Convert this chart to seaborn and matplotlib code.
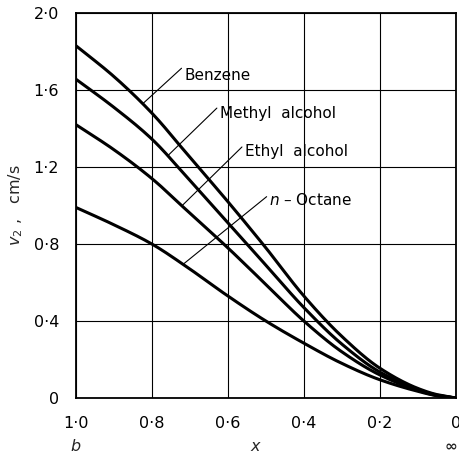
import numpy as np
import pandas as pd
import matplotlib
matplotlib.use("Agg")
import matplotlib.pyplot as plt
import seaborn as sns

# x positions (from 1.0 at b down to 0 at infinity)
x_vals = [1.0, 0.9, 0.8, 0.7, 0.6, 0.5, 0.4, 0.3, 0.2, 0.1, 0.05, 0.0]

benzene = [1.83, 1.67, 1.48, 1.25, 1.02, 0.78, 0.53, 0.32, 0.155, 0.05, 0.018, 0.0]
methyl_alcohol = [1.656, 1.51, 1.345, 1.13, 0.91, 0.69, 0.47, 0.28, 0.135, 0.045, 0.015, 0.0]
ethyl_alcohol = [1.42, 1.29, 1.14, 0.96, 0.78, 0.59, 0.40, 0.24, 0.12, 0.04, 0.013, 0.0]
n_octane = [0.99, 0.90, 0.80, 0.67, 0.53, 0.40, 0.285, 0.18, 0.095, 0.035, 0.012, 0.0]

series_names = ["Benzene", "Methyl  alcohol", "Ethyl  alcohol", "$n$ – Octane"]
series_values = [benzene, methyl_alcohol, ethyl_alcohol, n_octane]

x_ticks = [1.0, 0.8, 0.6, 0.4, 0.2, 0.0]
x_tick_labels = ["1·0", "0·8", "0·6", "0·4", "0·2", "0"]
y_ticks = [0.0, 0.4, 0.8, 1.2, 1.6, 2.0]
y_tick_labels = ["0", "0·4", "0·8", "1·2", "1·6", "2·0"]

# label placement: (text x, text y, x on curve where the leader line ends)
label_pos = [(0.715, 1.673, 0.824),
             (0.622, 1.48, 0.758),
             (0.556, 1.278, 0.721),
             (0.493, 1.029, 0.718)]
leader_start = [(0.722, 1.713), (0.629, 1.506), (0.563, 1.304), (0.498, 1.046)]


def pchip(xk, yk, xs):
    """Monotone piecewise cubic Hermite curve through (xk, yk)."""
    xk = np.asarray(xk, float)
    yk = np.asarray(yk, float)
    h = np.diff(xk)
    d = np.diff(yk) / h
    m = np.zeros_like(xk)
    for i in range(1, len(xk) - 1):
        if d[i - 1] * d[i] > 0:
            w1 = 2 * h[i] + h[i - 1]
            w2 = h[i] + 2 * h[i - 1]
            m[i] = (w1 + w2) / (w1 / d[i - 1] + w2 / d[i])
    m[0] = d[0]
    m[-1] = d[-1]
    idx = np.clip(np.searchsorted(xk, xs) - 1, 0, len(h) - 1)
    t = (xs - xk[idx]) / h[idx]
    h00 = 2 * t**3 - 3 * t**2 + 1
    h10 = t**3 - 2 * t**2 + t
    h01 = -2 * t**3 + 3 * t**2
    h11 = t**3 - t**2
    return (h00 * yk[idx] + h10 * h[idx] * m[idx]
            + h01 * yk[idx + 1] + h11 * h[idx] * m[idx + 1])


xs = np.linspace(0.0, 1.0, 300)
xk = np.array(x_vals[::-1])
frames = []
for name, vals in zip(series_names, series_values):
    frames.append(pd.DataFrame({"x": xs, "v2": pchip(xk, vals[::-1], xs), "liquid": name}))
df = pd.concat(frames, ignore_index=True)

sns.set_style("white")
plt.rcParams["font.family"] = ["DejaVu Sans"]

fig = plt.figure(figsize=(4.6, 4.57), dpi=100)
ax = fig.add_axes([0.165, 0.129, 0.826, 0.8426])

sns.lineplot(data=df, x="x", y="v2", hue="liquid", palette=["black"] * 4,
             linewidth=2.2, legend=False, ax=ax, sort=False)

ax.set_xlim(1.0, 0.0)
ax.set_ylim(0.0, 2.0)
ax.set_xticks(x_ticks)
ax.set_xticklabels(x_tick_labels)
ax.set_yticks(y_ticks)
ax.set_yticklabels(y_tick_labels)
ax.tick_params(axis="both", length=0, labelsize=11.5, colors="black")
ax.tick_params(axis="y", pad=12)
ax.tick_params(axis="x", pad=13)
ax.grid(True, color="black", linewidth=0.8)
ax.set_axisbelow(True)
for s in ax.spines.values():
    s.set_color("black")
    s.set_linewidth(1.3)

ax.set_xlabel("")
ax.set_ylabel("$v_2$ ,   cm/s", fontsize=11.5, labelpad=6)

# curve labels with thin leader lines
for (tx, ty, cx), (lx, ly), name, vals in zip(label_pos, leader_start, series_names, series_values):
    cy = float(pchip(xk, vals[::-1], np.array([cx]))[0])
    ax.plot([lx, cx], [ly, cy], color="black", linewidth=0.8)
    ax.text(tx, ty, name, fontsize=11, ha="left", va="center", color="black")

# end markers below the x axis
trans = ax.get_xaxis_transform()
ax.text(1.0, -0.125, "$b$", transform=trans, ha="center", va="center", fontsize=11.5)
ax.text(0.526, -0.125, "$x$", transform=trans, ha="center", va="center", fontsize=11.5)
ax.text(0.012, -0.125, "∞", transform=trans, ha="center", va="center", fontsize=11, fontweight="bold")

fig.savefig("out.png", dpi=100)
